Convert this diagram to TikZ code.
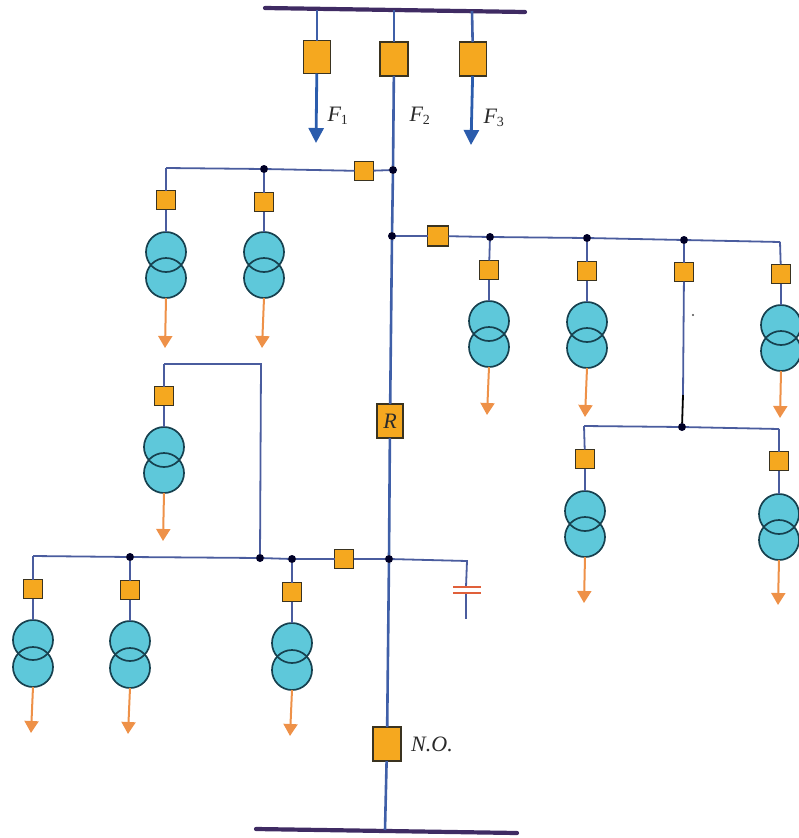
\documentclass[tikz,border=0pt]{standalone}
\usepackage{fontspec}
\setmainfont{Liberation Serif}
\usetikzlibrary{arrows.meta}
\definecolor{busc}{HTML}{3F2B63}
\definecolor{linec}{HTML}{3F5FA8}
\definecolor{thinc}{HTML}{4A5C9E}
\definecolor{boxc}{HTML}{F5A81F}
\definecolor{boxe}{HTML}{3A3320}
\definecolor{tfill}{HTML}{5EC8DA}
\definecolor{tedge}{HTML}{17414F}
\definecolor{orangec}{HTML}{EE9148}
\definecolor{bluec}{HTML}{2B5CAC}
\definecolor{capc}{HTML}{E0603A}
\definecolor{labc}{HTML}{2A2A2A}
\tikzset{
  x=1pt,y=-1pt,
  busbar/.style={draw=busc,line width=4.2pt,line cap=round},
  mainl/.style={draw=linec,line width=2.6pt},
  thinl/.style={draw=thinc,line width=1.8pt},
  dot/.style={circle,fill=black!85!blue,inner sep=0pt,outer sep=0pt,minimum size=8pt},
  bigbox/.style={rectangle,draw=boxe,line width=1.3pt,fill=boxc,inner sep=0pt,outer sep=0pt,minimum width=27pt,minimum height=33pt},
  smallbox/.style={rectangle,draw=boxe,line width=1.3pt,fill=boxc,inner sep=0pt,outer sep=0pt,minimum width=19pt,minimum height=19pt},
  coil/.style={circle,draw=tedge,line width=1.7pt,inner sep=0pt,outer sep=0pt,minimum size=40pt},
  loadarrow/.style={draw=orangec,line width=2pt,-{Triangle[width=14pt,length=12pt]}},
  feedarrow/.style={draw=bluec,line width=2.8pt,-{Triangle[width=15pt,length=15pt]}},
  lab/.style={inner sep=0pt,text=labc,font=\itshape\fontsize{22}{24}\selectfont},
}
\newcommand{\Fsub}[1]{F\textsubscript{\normalfont\fontsize{14}{14}\selectfont #1}}
% id, x, box y, coil y1, coil y2, arrow x, arrow y, parent node
\newcommand{\tbranch}[8]{%
  \node[smallbox] (#1b) at (#2,#3) {};
  \fill[tfill] (#2,#4) circle (20pt);
  \fill[tfill] (#2,#5) circle (20pt);
  \node[coil] (#1u) at (#2,#4) {};
  \node[coil] (#1l) at (#2,#5) {};
  \coordinate (#1a) at (#6,#7);
  \draw[thinl] (#8) -- (#1b);
  \draw[thinl] (#1b) -- (#1u.north);
  \draw[loadarrow] (#1l.south) -- (#1a);
}
\begin{document}
\begin{tikzpicture}
\useasboundingbox (0,0) rectangle (798,838);
% busbars
\coordinate (tl) at (265,8); \coordinate (tr) at (525,12);
\coordinate (bl) at (256,829); \coordinate (br) at (517,833);
\draw[busbar] (tl) -- (tr);
\draw[busbar] (bl) -- (br);
\coordinate (t1) at (317,10); \coordinate (t2) at (394,10); \coordinate (t3) at (472,11);
\coordinate (b0) at (385,830);
% main feeder nodes
\node[bigbox] (f1) at (317,57) {};
\node[bigbox,minimum width=28pt,minimum height=34pt] (f2) at (394,59) {};
\node[bigbox,minimum height=34pt] (f3) at (473,59) {};
\coordinate (a1) at (316,143); \coordinate (a3) at (471,145);
\draw[mainl] (t1) -- (f1); \draw[mainl] (t2) -- (f2); \draw[mainl] (t3) -- (f3);
\draw[feedarrow] (f1) -- (a1);
\draw[feedarrow] (f3) -- (a3);
\node[dot] (d1) at (393,170) {};
\node[dot] (d2) at (392,236) {};
\node[bigbox,minimum width=26pt,minimum height=34pt] (r) at (390,421) {\itshape\fontsize{22}{24}\selectfont\color{labc} R};
\node[dot] (d3) at (389,559) {};
\node[bigbox,minimum width=28pt,minimum height=34pt] (no) at (387,744) {};
\draw[mainl] (f2) -- (d1);
\draw[mainl] (d1) -- (d2);
\draw[mainl] (d2) -- (r);
\draw[mainl] (r) -- (d3);
\draw[mainl] (d3) -- (no);
\draw[mainl] (no) -- (b0);
% upper left branch
\node[smallbox] (s1) at (364,171) {};
\node[dot] (d4) at (264,169) {};
\coordinate (c1) at (166,168);
\draw[thinl] (d1) -- (s1);
\draw[thinl] (s1) -- (d4);
\draw[thinl] (d4) -- (c1);
\tbranch{ta}{166}{200}{252}{278}{165}{348}{c1}
\tbranch{tb}{264}{202}{252}{278}{262}{348}{d4}
% upper right branch
\node[smallbox,minimum width=21pt,minimum height=20pt] (s2) at (438,236) {};
\node[dot] (d5) at (490,237) {};
\node[dot] (d6) at (587,238) {};
\node[dot] (d7) at (684,240) {};
\coordinate (c2) at (780,242);
\draw[thinl] (d2) -- (s2);
\draw[thinl] (s2) -- (d5);
\draw[thinl] (d5) -- (d6);
\draw[thinl] (d6) -- (d7);
\draw[thinl] (d7) -- (c2);
\tbranch{tc}{489}{270}{321}{347}{487}{415}{d5}
\tbranch{td}{587}{271}{322}{348}{585}{417}{d6}
\tbranch{te}{781}{274}{325}{351}{780}{418}{c2}
% sub-branch
\node[smallbox] (s3) at (684,272) {};
\node[dot] (d8) at (682,427) {};
\coordinate (m1) at (683,395);
\coordinate (c3) at (584,426); \coordinate (c4) at (779,429);
\draw[thinl] (d7) -- (s3);
\draw[thinl] (s3) -- (m1);
\draw[draw=black,line width=1.8pt] (m1) -- (d8);
\draw[thinl] (d8) -- (c3);
\draw[thinl] (d8) -- (c4);
\tbranch{tf}{585}{459}{511}{537}{584}{603}{c3}
\tbranch{tg}{779}{461}{514}{540}{778}{605}{c4}
\fill[black!70] (693,315) circle (1.2pt);
% lower left branch
\node[smallbox] (s4) at (344,559) {};
\node[dot] (d9) at (292,559) {};
\node[dot] (d10) at (260,558) {};
\node[dot] (d11) at (130,557) {};
\coordinate (c5) at (33,556);
\draw[thinl] (d3) -- (s4);
\draw[thinl] (s4) -- (d9);
\draw[thinl] (d9) -- (d10);
\draw[thinl] (d10) -- (d11);
\draw[thinl] (d11) -- (c5);
\tbranch{th}{33}{589}{640}{667}{31}{733}{c5}
\tbranch{ti}{130}{590}{641}{668}{128}{734}{d11}
\tbranch{tj}{292}{592}{643}{670}{290}{736}{d9}
% looped transformer
\coordinate (c6) at (261,364); \coordinate (c7) at (164,364);
\draw[thinl] (d10) -- (c6) -- (c7);
\tbranch{tk}{164}{396}{447}{473}{163}{541}{c7}
% capacitor
\coordinate (c8) at (467,561);
\coordinate (p1) at (466,587); \coordinate (p2) at (466,593); \coordinate (p3) at (466,619);
\coordinate (p1l) at (453,587); \coordinate (p1r) at (481,587);
\coordinate (p2l) at (453,593); \coordinate (p2r) at (481,593);
\draw[thinl] (d3) -- (c8) -- (p1);
\draw[thinl] (p2) -- (p3);
\draw[draw=capc,line width=1.6pt] (p1l) -- (p1r);
\draw[draw=capc,line width=1.6pt] (p2l) -- (p2r);
% labels
\node[lab] at (338,116) {\Fsub{1}};
\node[lab] at (420,116) {\Fsub{2}};
\node[lab] at (494,118) {\Fsub{3}};
\node[lab,anchor=west] at (411,744) {N.O.};
\end{tikzpicture}
\end{document}
